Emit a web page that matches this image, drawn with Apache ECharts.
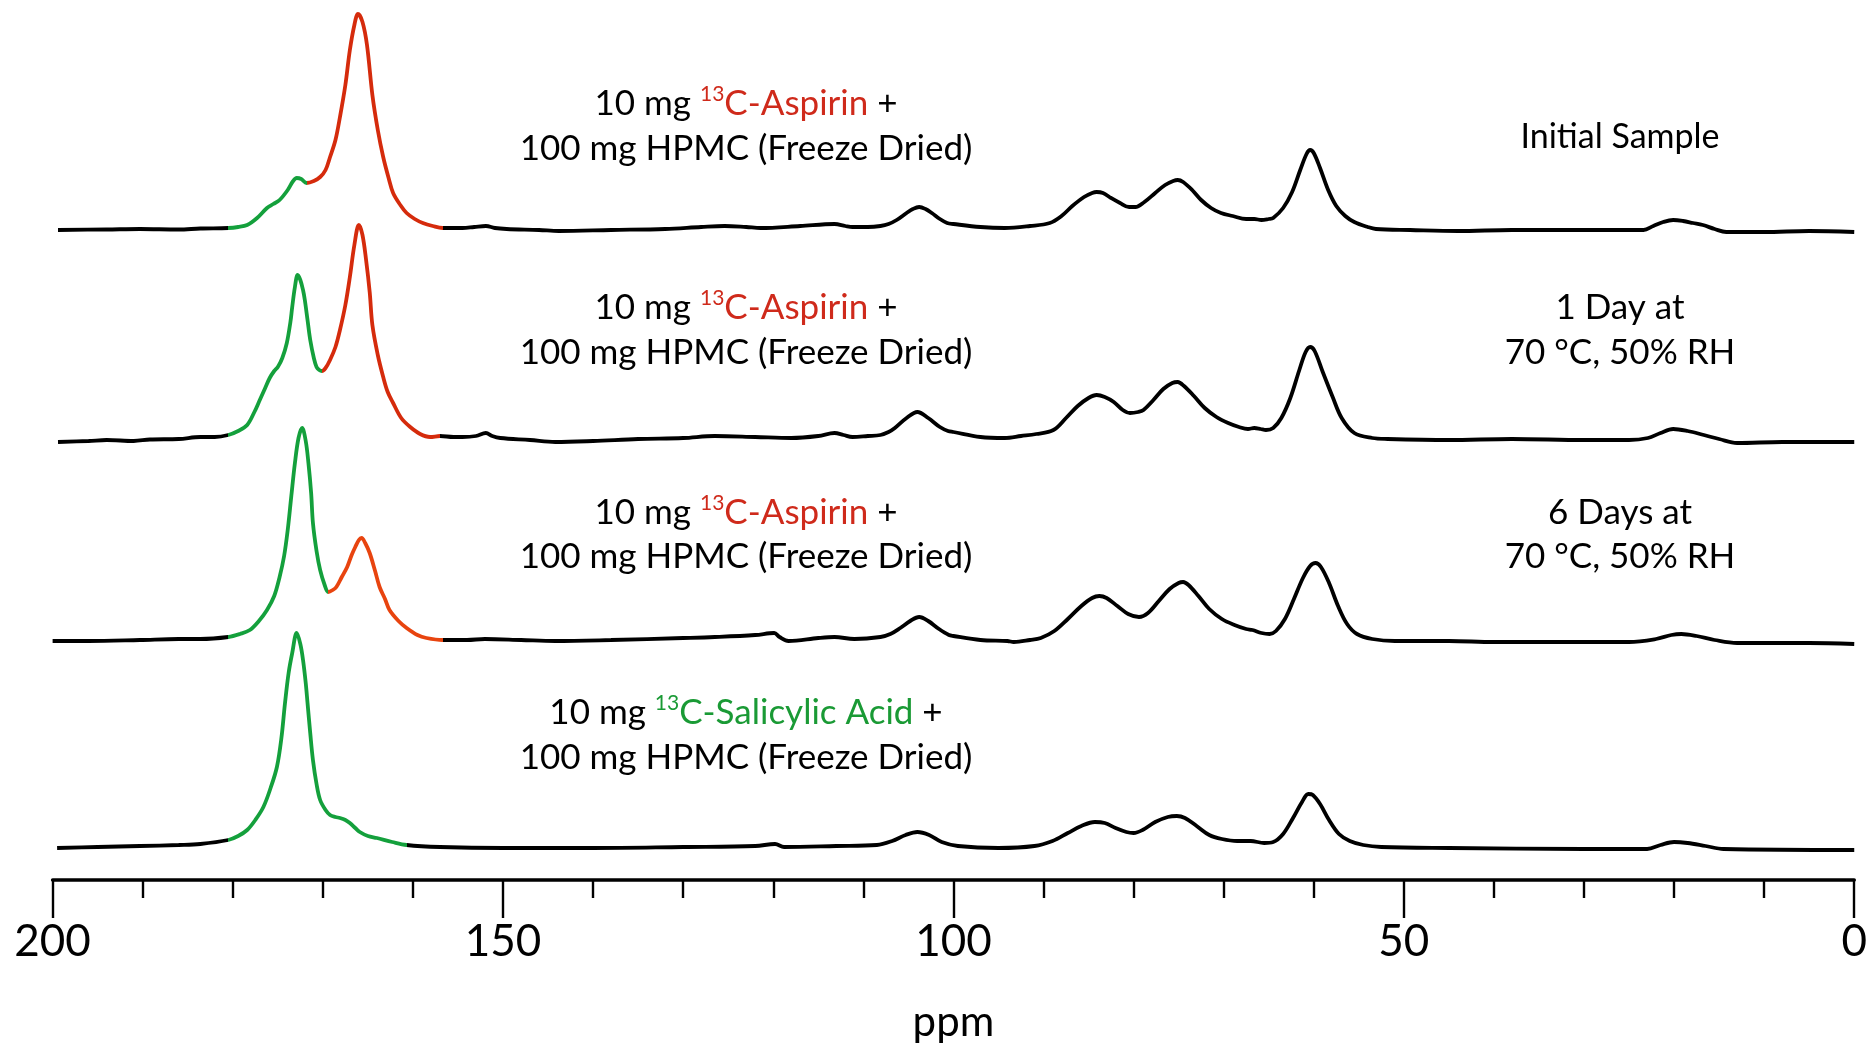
<!DOCTYPE html>
<html><head><meta charset="utf-8">
<script src="https://cdn.jsdelivr.net/npm/echarts/dist/echarts.min.js"></script>
<style>html,body{margin:0;padding:0;background:#fff}#c{width:1870px;height:1051px}</style>
</head><body><div id="c"></div>
<script>
// ---- DATA: [ppm, intensity above the trace's own baseline] ----
const initialSample = [[199.4,0],[194.0,0.5],[190.3,1],[186,0.5],[183.6,1.5],[180.5,2],[179.4,3],[178.4,5],[177.3,12],[176.2,22],[175.5,26],[174.8,30],[173.9,40],[173.3,49],[172.9,52],[172.4,51],[171.8,47],[171.0,49],[170.3,53],[169.7,60],[169.2,73],[168.6,90],[168.1,113],[167.5,145],[167.0,180],[166.5,205],[166.1,216],[165.6,208],[165.1,185],[164.5,135],[163.9,100],[163.3,73],[162.7,52],[162.2,37],[161.4,25],[160.7,17],[159.8,11],[158.9,7],[157.8,4],[156.7,2],[154.5,2],[153.2,3],[151.9,4],[150.9,2],[149.6,1],[146,0],[143.8,-1],[138,0],[132,1],[128,3],[125.4,4],[123,3],[121.4,2],[117,4],[113.2,6],[112,4],[111.2,3],[109.5,3],[108.1,4],[107.2,6],[106.3,10],[105.2,17],[104.5,21],[103.8,23],[103.1,21],[102.4,17],[101.5,11],[100.7,7],[100,6],[97,3],[94.3,2],[91.5,4],[89.3,7],[88.0,14],[86.8,24],[85.5,33],[84.6,37],[84.1,38],[83.4,37],[82.5,32],[81.5,27],[80.5,23],[79.8,23],[78.8,28],[77.6,37],[76.5,45],[75.6,49],[75.1,50],[74.5,48],[73.5,40],[72.5,30],[71.4,22],[70.3,17],[69.0,14],[67.5,11],[66.6,11],[65.8,10],[65.0,11],[64.5,12],[63.4,22],[62.4,38],[61.5,60],[60.8,76],[60.4,80],[60.0,77],[59.3,62],[58.4,40],[57.5,24],[56.5,14],[55.5,8],[54.0,3],[53.1,1],[49.3,0],[44,-1],[38,0],[30,0],[23.4,0],[22.3,4],[21.2,8],[20.1,10],[19.0,9],[17.9,7],[16.8,5],[15.5,1],[14.2,-2],[10,-2],[5,-1],[0,-2]];

const oneDay = [[199.4,-2],[196,-1],[194.0,0],[191,-1],[189.2,0.5],[186,1],[183.6,3],[182,3],[180.5,5],[179.4,9],[178.4,15],[177.6,28],[177.0,40],[176.4,52],[175.9,62],[175.4,69],[175.0,73],[174.5,82],[174.0,97],[173.6,118],[173.4,133],[173.1,153],[172.8,165],[172.5,160],[172.2,150],[172.0,140],[171.7,120],[171.4,100],[171.0,82],[170.7,73],[170.4,70],[170.1,69],[169.7,72],[169.2,80],[168.6,93],[168.1,110],[167.5,135],[167.0,163],[166.5,195],[166.0,215],[165.6,205],[165.2,180],[164.8,148],[164.5,115],[163.9,85],[163.3,63],[162.8,48],[162.2,37],[161.3,22],[160.3,13],[159.2,6],[158.1,3],[157.0,4],[155.5,3],[154.5,3],[153,4],[151.9,7],[151.2,4],[150.3,2],[147,0],[144.2,-2],[140,-1],[135,1],[130,2],[126.5,4],[122,3],[118,2],[115,4],[113.2,7],[112.2,5],[111.2,3],[109.5,4],[108.1,5],[107.2,8],[106.5,12],[105.2,22],[104.0,28],[102.8,22],[101.5,13],[100.6,9],[100,8],[97,3],[94.3,2],[92.5,4],[90.8,6],[88.9,10],[87.5,22],[86.2,34],[85.0,42],[84.1,45],[83.2,43],[82.2,38],[81.2,30],[80.4,27],[79.5,28],[78.9,30],[77.8,40],[76.7,51],[75.7,57],[75.1,58],[74.4,54],[73.3,44],[72.1,32],[70.8,23],[69.5,17],[68.3,13],[67.3,11],[66.6,12],[65.9,11],[65.3,10],[64.5,12],[63.6,22],[62.6,42],[61.6,70],[60.9,88],[60.4,93],[59.9,89],[59.0,68],[57.9,43],[56.9,22],[55.5,7],[53.5,2],[51.8,1],[45,0],[38,1],[30,0],[25,0],[22.9,2],[21.5,7],[20.1,11],[18.5,9],[16.7,5],[15,1],[13.0,-3],[8,-2],[4,-2],[0,-2]];

const sixDays = [[200.0,0],[196,0],[190.3,1],[186,2],[183.6,2],[180.5,4],[179.2,7],[178.1,11],[177.1,20],[176.2,31],[175.4,45],[174.8,64],[174.3,85],[173.9,111],[173.5,145],[173.1,178],[172.7,203],[172.3,213],[171.9,200],[171.6,178],[171.3,148],[171.1,118],[170.7,90],[170.3,71],[169.8,56],[169.4,49],[168.9,51],[168.5,54],[167.9,64],[167.3,74],[166.8,86],[166.4,94],[166.0,101],[165.7,103],[165.3,98],[164.8,88],[164.2,70],[163.7,54],[163.1,42],[162.6,31],[161.6,20],[160.7,13],[159.5,6],[158.5,3],[156.7,1],[154,1],[152,2],[148,1],[144.2,0],[138,1],[130,3],[126.5,4],[122,6],[119.9,8],[119.3,4],[118.3,0],[115,3],[113.2,4],[111,2],[108.1,4],[107,7],[105.9,13],[104.8,20],[103.8,24],[102.8,20],[101.6,12],[100.5,6],[100,5],[97,1],[94,0],[93.3,-1],[91.5,1],[90.3,3],[88.8,10],[87.3,22],[85.8,35],[84.6,43],[83.8,45],[83.0,43],[81.8,35],[80.6,27],[79.4,24],[78.4,28],[77.2,40],[76.0,52],[75.0,58],[74.5,59],[73.9,56],[72.8,45],[71.6,32],[70.2,22],[68.8,16],[67.5,12],[66.8,11],[65.8,8],[64.9,7],[64.2,10],[63.2,22],[62.2,42],[61.2,63],[60.4,75],[59.8,78],[59.2,74],[58.3,58],[57.3,35],[56.3,17],[55.2,7],[53.5,2],[51,0],[45,0],[40,-1],[30,-1],[25,-1],[22,2],[20.3,6],[19.2,7],[17.5,5],[15.5,1],[13,-2],[5,-2],[0,-3]];

const salicylic = [[199.5,0],[195,1],[190.3,2],[186,3],[183.6,4],[180.5,8],[179.4,12],[178.4,18],[177.5,28],[176.6,41],[175.8,60],[175.1,81],[174.6,110],[174.2,145],[173.8,175],[173.4,195],[172.9,215],[172.5,204],[172.2,188],[171.9,165],[171.7,145],[171.4,115],[171.1,88],[170.7,64],[170.3,48],[169.7,38],[169.2,33],[168.6,31],[168.1,30],[167.5,28],[167.0,25],[166.4,20],[165.9,16],[165.0,12],[164.0,10],[162.3,6],[160.7,3],[157.0,1],[150,0],[140,0],[130,1],[122,2],[119.8,4],[118.8,1],[113,2],[108.5,3],[106.8,7],[105.3,13],[104.0,16],[102.7,13],[101.3,6],[99.5,2],[95,0],[91,2],[89,7],[87.3,15],[85.8,22],[84.3,26],[83.2,25],[82,20],[80.8,16],[80.0,15],[79.0,18],[77.6,26],[76.2,31],[75.2,32],[74.3,30],[73.0,22],[71.6,13],[70.2,9],[68.5,7],[67.0,7],[65.5,5],[64.5,6],[63.4,14],[62.3,30],[61.3,46],[60.6,54],[60.1,53],[59.3,44],[58.3,28],[57.2,14],[56.0,7],[54.5,3],[52.5,1],[45,0],[30,-1],[23,-1],[21.5,3],[20.0,6],[18.5,5],[16.5,2],[14.5,-1],[0,-2]];

// stacking offsets (vertical shift of each spectrum)
const stackOffsets = [650, 440, 239, 32];
// coloured ppm ranges: salicylic acid [from, to], aspirin [from, to]
const salicylicRanges = [[180.5,171.8],[180.5,170.1],[180.5,169.4],[180.5,160.7]];
const aspirinRanges   = [[171.8,156.7],[170.1,157.0],[169.4,156.7],null];

// axis
const axisMin = 0, axisMax = 200, majorStep = 50, minorSplit = 5;
const axisTitle = 'ppm';

// labels
const compoundLabels = ['Aspirin','Aspirin','Aspirin','Salicylic Acid'];
const mixLine2 = '100 mg HPMC (Freeze Dried)';
const conditionLabels = [['Initial Sample'], ['1 Day at','70 °C, 50% RH'], ['6 Days at','70 °C, 50% RH'], []];

// ---- STYLE ----
const GREEN = '#14a03c';
const REDS = ['#d52b0c','#d52b0c','#e8440f',null];
const TEXT_RED = '#cf2a1b';
const TEXT_GREEN = '#1a9a35';
const FONT = 'Lato, "Open Sans", sans-serif';

const traces = [initialSample, oneDay, sixDays, salicylic];

const series = traces.map((d, i) => ({
  type: 'line',
  data: d.map(p => [p[0], p[1] + stackOffsets[i]]),
  showSymbol: false, symbol: 'none',
  smooth: 0.35,
  lineStyle: { width: 3.8 },
  silent: true, z: 2
}));

const visualMaps = traces.map((d, i) => {
  const pieces = [{ gt: salicylicRanges[i][1], lte: salicylicRanges[i][0], color: GREEN }];
  if (aspirinRanges[i]) pieces.push({ gt: aspirinRanges[i][1], lte: aspirinRanges[i][0], color: REDS[i] });
  return { type: 'piecewise', show: false, dimension: 0, seriesIndex: i, pieces, outOfRange: { color: '#000' } };
});

// text annotation layout (pixels)
const leftX = 746, rightX = 1620;
const lineY = [[104,149],[308,353],[513,557],[713,758]];
const FS = 35;
const graphic = [];
traces.forEach((d, i) => {
  const c = i < 3 ? TEXT_RED : TEXT_GREEN;
  graphic.push({
    type: 'text', x: leftX, y: lineY[i][0], silent: true,
    style: {
      text: '{n|10 mg }{s|13}{c|C-' + compoundLabels[i] + '}{n| +}',
      align: 'center', verticalAlign: 'middle',
      rich: {
        n: { fontFamily: FONT, fontSize: FS, fill: '#000', lineHeight: 40 },
        s: { fontFamily: FONT, fontSize: 21, fill: c, lineHeight: 26, verticalAlign: 'top' },
        c: { fontFamily: FONT, fontSize: FS, fill: c, lineHeight: 40 }
      }
    }
  });
  graphic.push({
    type: 'text', x: leftX, y: lineY[i][1], silent: true,
    style: { text: mixLine2, align: 'center', verticalAlign: 'middle', fontFamily: FONT, fontSize: FS, fill: '#000' }
  });
  const cond = conditionLabels[i];
  if (cond.length === 1) {
    graphic.push({ type: 'text', x: rightX, y: 137, silent: true,
      style: { text: cond[0], align: 'center', verticalAlign: 'middle', fontFamily: FONT, fontSize: FS - 1, fill: '#000' } });
  } else if (cond.length === 2) {
    cond.forEach((t, k) => graphic.push({ type: 'text', x: rightX, y: lineY[i][k], silent: true,
      style: { text: t, align: 'center', verticalAlign: 'middle', fontFamily: FONT, fontSize: FS, fill: '#000' } }));
  }
});

const chart = echarts.init(document.getElementById('c'), null, { renderer: 'canvas' });
chart.setOption({
  animation: false,
  backgroundColor: '#fff',
  grid: { left: 52.6, right: 15, top: 0, bottom: 171, containLabel: false },
  xAxis: {
    type: 'value', min: axisMin, max: axisMax, interval: majorStep, inverse: true,
    name: axisTitle, nameLocation: 'middle', nameGap: 121,
    nameTextStyle: { fontFamily: FONT, fontSize: 42, color: '#000' },
    axisLine: { show: true, onZero: false, lineStyle: { color: '#000', width: 3.5 } },
    axisTick: { show: true, inside: false, length: 38, lineStyle: { color: '#000', width: 2.4 } },
    minorTick: { show: true, splitNumber: minorSplit, length: 18, lineStyle: { color: '#000', width: 2.4 } },
    axisLabel: { fontFamily: FONT, fontSize: 44, color: '#000', margin: 40 },
    splitLine: { show: false }, minorSplitLine: { show: false }
  },
  yAxis: { type: 'value', min: 0, max: 880, show: false, splitLine: { show: false } },
  visualMap: visualMaps,
  series,
  graphic
});
</script></body></html>
